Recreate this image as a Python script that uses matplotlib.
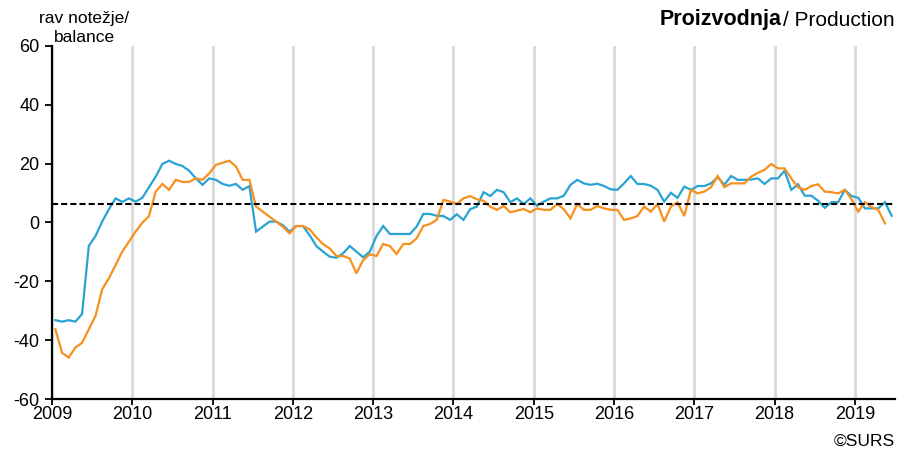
import matplotlib
matplotlib.use("Agg")
import matplotlib.pyplot as plt
import numpy as np

plt.rcParams['font.family'] = ['Liberation Sans', 'DejaVu Sans']

# Monthly balances, January 2009 onwards
series_blue = [
    -33.2, -33.7, -33.2, -33.7, -31.1, -8.0, -4.6, 0.3, 4.5, 8.2, 7.0, 8.2,
    7.1, 8.4, 12.0, 15.6, 19.9, 21.0, 19.9, 19.2, 17.6, 15.0, 12.8, 15.0,
    14.5, 13.1, 12.5, 13.1, 11.1, 12.4, -3.1, -1.4, 0.3, 0.3, -0.9, -3.1,
    -1.2, -1.2, -4.3, -8.0, -9.9, -11.6, -12.0, -10.5, -8.0, -9.9, -11.8, -9.9,
    -4.6, -1.2, -3.9, -3.9, -3.9, -3.9, -1.4, 2.9, 2.9, 2.3, 2.2, 0.9,
    2.8, 0.9, 4.5, 5.4, 10.3, 9.0, 11.1, 10.3, 6.9, 8.2, 6.3, 8.2,
    5.7, 7.1, 8.2, 8.2, 9.1, 12.8, 14.5, 13.3, 12.8, 13.2, 12.4, 11.3,
    11.1, 13.3, 15.8, 13.1, 13.1, 12.5, 11.1, 7.1, 10.1, 8.4, 12.2, 11.1,
    12.4, 12.4, 13.3, 15.4, 12.8, 15.8, 14.5, 14.5, 14.6, 15.0, 13.1, 15.0,
    15.0, 17.6, 11.1, 13.0, 9.1, 9.1, 7.4, 5.0, 6.9, 6.9, 11.1, 9.0,
    8.4, 4.8, 4.8, 4.8, 6.9, 2.3,
]
series_orange = [
    -36.3, -44.3, -45.9, -42.5, -40.9, -36.3, -31.8, -22.7, -19.0, -14.5, -9.9, -6.5,
    -3.1, -0.1, 2.2, 10.5, 13.1, 11.1, 14.5, 13.8, 13.8, 15.0, 14.5, 16.7,
    19.6, 20.3, 21.0, 19.0, 14.5, 14.5, 5.4, 3.7, 2.0, 0.3, -1.4, -3.7,
    -1.2, -1.2, -2.3, -5.0, -7.3, -8.8, -11.4, -11.4, -12.2, -17.3, -12.8, -10.8,
    -11.4, -7.3, -8.0, -10.7, -7.3, -7.3, -5.4, -1.2, -0.5, 0.9, 7.7, 7.1,
    6.3, 8.2, 9.0, 7.9, 7.4, 5.4, 4.3, 5.6, 3.5, 4.0, 4.6, 3.5,
    4.8, 4.3, 4.3, 6.3, 4.5, 1.4, 6.3, 4.3, 4.3, 5.6, 4.8, 4.3,
    4.3, 0.9, 1.4, 2.2, 5.4, 3.7, 6.3, 0.3, 5.4, 6.9, 2.2, 11.1,
    9.9, 10.5, 12.0, 15.8, 12.0, 13.3, 13.3, 13.3, 15.6, 16.9, 17.9, 19.9,
    18.4, 18.4, 15.0, 12.0, 11.1, 12.4, 13.0, 10.5, 10.3, 9.9, 11.1, 7.9,
    3.7, 6.9, 5.2, 4.3, -0.3,
]
long_term_average = 6.2
years = list(range(2009, 2020))
year_labels = [str(y) for y in years]
y_ticks = [-60, -40, -20, 0, 20, 40, 60]

W, H = 917, 454
fig = plt.figure(figsize=(W / 100, H / 100), dpi=100)
ax = fig.add_axes([52 / W, 55 / H, 843 / W, 353 / H])

t_blue = 2009 + (np.arange(len(series_blue)) + 0.5) / 12
t_orange = 2009 + (np.arange(len(series_orange)) + 0.5) / 12

ax.plot(t_blue, series_blue, color='#29a3d3', lw=1.6, zorder=3, solid_joinstyle='miter')
ax.plot(t_orange, series_orange, color='#f7901e', lw=1.6, zorder=4, solid_joinstyle='miter')
ax.axhline(long_term_average, color='black', lw=1.5, ls=(0, (2.9, 1.5)), zorder=5)

ax.set_xlim(2009, 2019.5)
ax.set_ylim(-60, 60)
ax.set_xticks(years)
ax.set_xticklabels(year_labels)
ax.set_yticks(y_ticks)
ax.set_yticklabels([str(v) for v in y_ticks])
ax.grid(axis='x', color='#d9d9d9', lw=2)
ax.set_axisbelow(True)

for s in ['top', 'right']:
    ax.spines[s].set_visible(False)
for s in ['left', 'bottom']:
    ax.spines[s].set_linewidth(1.6)
    ax.spines[s].set_color('black')
    ax.spines[s].set_zorder(6)

ax.tick_params(axis='y', direction='out', length=5, width=1.3, pad=4, labelsize=13)
ax.tick_params(axis='x', direction='out', length=4, width=1.3, pad=1, labelsize=13)


def px(x, y):
    return x / W, 1 - y / H


fig.text(*px(84, 18), 'rav notežje/', ha='center', va='center', fontsize=12.5)
fig.text(*px(84, 38), 'balance', ha='center', va='center', fontsize=12.5)

t2 = fig.text(*px(895, 20), '/ Production', ha='right', va='center', fontsize=15)
fig.canvas.draw()
r = fig.canvas.get_renderer()
bb = t2.get_window_extent(r)
fig.text(bb.x0 / W - 2 / W, 1 - 20 / H, 'Proizvodnja', ha='right', va='center',
         fontsize=15.5, fontweight='bold')

fig.text(*px(895, 441), '©SURS', ha='right', va='center', fontsize=12.5)

fig.savefig('out.png', dpi=100)
